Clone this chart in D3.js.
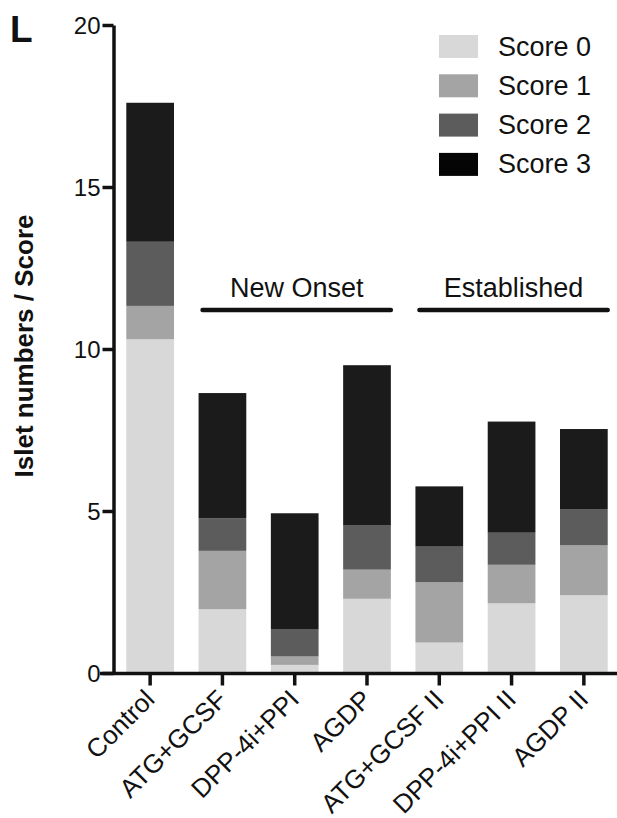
<!DOCTYPE html>
<html lang="en">
<head>
<meta charset="utf-8">
<style>
  body { margin: 0; background: white; }
  svg { display: block; font-family: "Liberation Sans", Arial, sans-serif; }
  .axis path, .axis line { stroke: #111; stroke-width: 3.5px; }
  .axis text { font-size: 24px; fill: #111; }
</style>
<script src="https://d3js.org/d3.v7.min.js"></script>
</head>
<body>
<script>
var categories = ["Control", "ATG+GCSF", "DPP-4i+PPI", "AGDP", "ATG+GCSF II", "DPP-4i+PPI II", "AGDP II"];
var seriesNames = ["Score 0", "Score 1", "Score 2", "Score 3"];
var score0 = [10.3, 1.97, 0.25, 2.29, 0.94, 2.15, 2.4];
var score1 = [1.03, 1.8, 0.26, 0.9, 1.86, 1.19, 1.54];
var score2 = [1.98, 1.0, 0.83, 1.36, 1.1, 0.99, 1.12];
var score3 = [4.29, 3.87, 3.59, 4.95, 1.86, 3.43, 2.47];
var yTicks = [0, 5, 10, 15, 20];
var groups = [
  { label: "New Onset", from: 1, to: 3 },
  { label: "Established", from: 4, to: 6 }
];
var groupLevel = 11.2;

var width = 617, height = 818;
var colors = ["#d8d8d8", "#a4a4a4", "#5c5c5c", "#1b1b1b"];

var svg = d3.select("body").append("svg")
  .attr("width", width)
  .attr("height", height);

var x = d3.scaleBand().domain(categories).range([114, 620])
  .paddingInner(0.34).paddingOuter(0.17);
var y = d3.scaleLinear().domain([0, 20]).range([673, 25]);

var rows = categories.map(function(c, i) {
  return { cat: c, "Score 0": score0[i], "Score 1": score1[i], "Score 2": score2[i], "Score 3": score3[i] };
});
var stacked = d3.stack().keys(seriesNames)(rows);

// bars
svg.append("g").selectAll("g")
  .data(stacked)
  .enter().append("g")
  .attr("fill", function(d, i) { return colors[i]; })
  .selectAll("rect")
  .data(function(d) { return d; })
  .enter().append("rect")
  .attr("x", function(d) { return x(d.data.cat); })
  .attr("width", x.bandwidth())
  .attr("y", function(d) { return y(d[1]); })
  .attr("height", function(d) { return y(d[0]) - y(d[1]); });

// y axis
var yAxis = svg.append("g").attr("class", "axis")
  .attr("transform", "translate(113.5,0)")
  .call(d3.axisLeft(y).tickValues(yTicks).tickSize(11).tickSizeOuter(0).tickPadding(2));
yAxis.selectAll("text").attr("dy", "0.36em");

// x axis
var xAxis = svg.append("g").attr("class", "axis")
  .attr("transform", "translate(0,673.5)")
  .call(d3.axisBottom(x).tickSize(12).tickSizeOuter(0).tickFormat(""));
xAxis.select(".domain").attr("d", "M100,0H617");

// x labels, rotated
svg.append("g").selectAll("text")
  .data(categories)
  .enter().append("text")
  .attr("text-anchor", "end")
  .attr("font-size", 26)
  .attr("fill", "#111")
  .attr("transform", function(d) {
    return "translate(" + (x(d) + x.bandwidth() / 2 + 6) + ",701) rotate(-45)";
  })
  .text(function(d) { return d; });

// y title
svg.append("text")
  .attr("transform", "translate(33,346) rotate(-90)")
  .attr("text-anchor", "middle")
  .attr("font-size", 26)
  .attr("font-weight", "bold")
  .attr("fill", "#111")
  .text("Islet numbers / Score");

// panel letter
svg.append("text")
  .attr("x", 10).attr("y", 42)
  .attr("font-size", 37)
  .attr("font-weight", "bold")
  .attr("fill", "#111")
  .text("L");

// group brackets
var g = svg.append("g").selectAll("g").data(groups).enter().append("g");
g.append("line")
  .attr("x1", function(d) { return x(categories[d.from]) + 4; })
  .attr("x2", function(d) { return x(categories[d.to]) + x.bandwidth(); })
  .attr("y1", y(groupLevel)).attr("y2", y(groupLevel))
  .attr("stroke", "#111").attr("stroke-width", 4.5)
  .attr("stroke-linecap", "round");
g.append("text")
  .attr("x", function(d) { return (x(categories[d.from]) + 4 + x(categories[d.to]) + x.bandwidth()) / 2; })
  .attr("y", y(groupLevel) - 13)
  .attr("text-anchor", "middle")
  .attr("font-size", 27)
  .attr("fill", "#111")
  .text(function(d) { return d.label; });

// legend
var leg = svg.append("g").selectAll("g")
  .data(seriesNames)
  .enter().append("g")
  .attr("transform", function(d, i) { return "translate(439," + (35 + i * 39.3) + ")"; });
leg.append("rect")
  .attr("width", 39).attr("height", 23)
  .attr("fill", function(d, i) { return i === 3 ? "#050505" : colors[i]; });
leg.append("text")
  .attr("x", 59).attr("y", 20.5)
  .attr("font-size", 27)
  .attr("fill", "#111")
  .text(function(d) { return d; });
</script>
</body>
</html>
